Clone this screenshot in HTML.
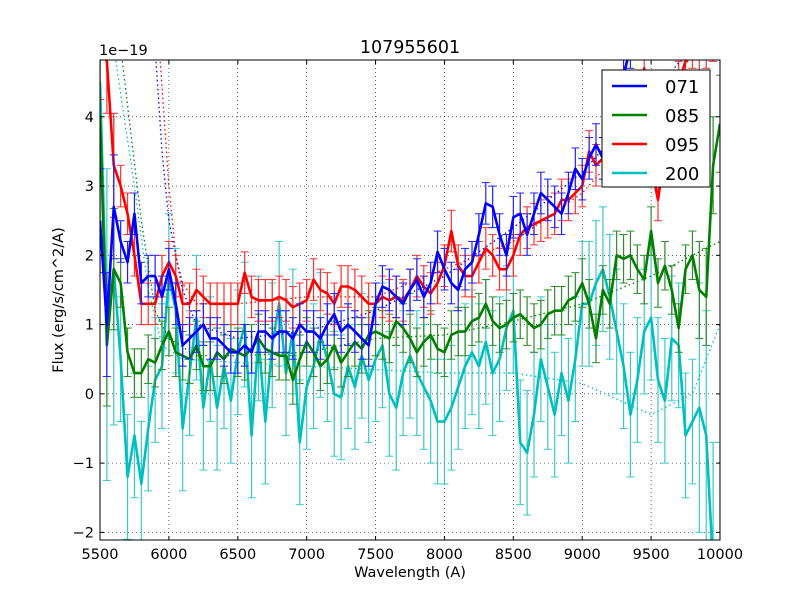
<!DOCTYPE html>
<html><head><meta charset="utf-8"><style>
html,body{margin:0;padding:0;background:#fff;width:800px;height:600px;overflow:hidden;}
svg{display:block;overflow:hidden;font-family:"DejaVu Sans","Liberation Sans",sans-serif;}
</style></head><body>
<svg id="c" width="800" height="600" xmlns="http://www.w3.org/2000/svg"></svg>
<script>
const waves=[];for(let w=5500;w<=10000;w+=50)waves.push(w);
const s071=[2.5,1.0,2.7,2.2,1.9,2.6,1.6,1.7,1.7,1.4,1.8,1.3,0.7,0.8,0.9,1.0,0.8,0.8,0.7,0.6,0.6,0.7,0.6,0.9,0.9,0.8,0.9,0.9,0.8,1.0,0.9,0.9,0.8,1.0,1.15,0.9,1.0,0.9,0.8,0.7,1.3,1.55,1.5,1.4,1.3,1.5,1.65,1.4,1.6,2.05,1.8,1.6,1.5,1.8,1.9,2.3,2.75,2.7,2.3,2.0,2.55,2.6,2.3,2.6,2.9,2.8,2.7,2.6,2.9,3.25,3.1,3.4,3.6,3.4,3.8,4.3,4.6,5.0,5.2,5.3,5.4,5.5,5.5,5.6,5.6,5.7,5.7,5.8,5.8,5.9,5.9];
const s085=[4.0,0.7,1.8,1.6,0.6,0.3,0.3,0.5,0.45,0.7,0.9,0.6,0.55,0.5,0.7,0.4,0.4,0.6,0.5,0.65,0.6,0.55,0.65,0.8,0.65,0.6,0.55,0.55,0.2,0.5,0.75,0.6,0.4,0.5,0.7,0.45,0.6,0.75,0.65,0.85,0.9,0.85,0.8,1.05,0.95,0.8,0.6,0.75,0.85,0.65,0.6,0.85,0.9,0.9,1.05,1.1,1.3,1.05,0.95,1.0,1.1,1.15,1.05,0.95,1.0,1.15,1.2,1.2,1.35,1.4,1.6,1.3,0.8,1.5,1.3,2.0,1.95,2.0,1.8,1.65,2.35,1.6,1.85,1.5,0.95,1.8,2.0,1.5,1.4,3.3,3.9];
const s095=[5.0,4.8,3.3,3.0,2.6,2.0,1.3,1.3,1.3,1.7,1.9,1.7,1.3,1.3,1.5,1.4,1.3,1.3,1.3,1.3,1.3,1.75,1.4,1.35,1.35,1.35,1.4,1.35,1.25,1.3,1.35,1.65,1.5,1.45,1.3,1.55,1.55,1.5,1.4,1.3,1.3,1.4,1.35,1.4,1.35,1.5,1.7,1.55,1.45,1.6,1.85,2.35,1.85,1.7,1.7,1.9,2.1,2.0,1.8,1.8,2.0,2.3,2.4,2.45,2.5,2.55,2.6,2.8,2.8,2.9,3.0,3.5,3.3,3.4,3.7,4.0,3.5,4.0,4.2,4.7,3.3,2.8,3.5,3.9,4.5,4.8,5.0,5.2,5.3,5.4,5.5];
const s200=[4.5,1.0,1.8,0.5,-1.2,-0.6,-1.3,-0.5,0.2,0.4,1.7,1.2,-0.5,0.3,1.1,-0.2,0.5,-0.2,0.4,-0.1,0.6,1.0,-0.6,0.8,-0.4,0.7,1.3,0.3,0.9,-0.7,0.1,0.4,0.85,0.5,0.0,-0.05,0.4,0.1,0.55,0.2,0.5,0.7,0.0,-0.2,0.3,0.55,0.3,0.1,-0.1,-0.4,-0.4,-0.2,0.1,0.4,0.6,0.4,0.75,0.3,0.5,0.95,1.2,-0.7,-0.85,-0.3,0.5,0.1,-0.3,0.3,-0.1,0.5,1.3,1.3,1.6,1.8,1.4,0.9,0.4,-0.3,0.2,0.9,1.1,0.2,-0.1,0.8,0.7,-0.6,-0.4,-0.2,-0.6,-2.5,-2.5];
const err071=0.3, err085=0.35, err095=0.3, err200=0.9;
const fitRedX=[5930,6000,6050,6100,6200,6500,7000,7500,8000,8500,9000,9500,10000];
const fitRedY=[5.0,3.0,2.0,1.6,1.3,1.3,1.4,1.4,1.8,2.2,2.9,4.0,5.5];
const fitBlueX=[5900,5950,6000,6100,6200,6500,7000,7500,8000,8500,9000,9500,10000];
const fitBlueY=[5.0,3.5,2.5,1.5,1.0,0.8,0.9,1.2,1.7,2.4,3.2,4.3,5.5];
const fitGreenX=[5650,5800,5900,6000,6200,6500,7000,7500,8000,8500,9000,9500,10000];
const fitGreenY=[5.0,2.5,1.2,0.8,0.55,0.55,0.6,0.8,0.85,1.05,1.3,1.7,2.2];
const fitCyanX=[5600,5750,5850,5950,6100,6500,7000,7500,8000,8500,9000,9500,9800,10000];
const fitCyanY=[5.0,3.0,1.5,0.7,0.5,0.45,0.4,0.35,0.3,0.3,0.15,-0.3,0.0,1.0];
const xTicks=[5500,6000,6500,7000,7500,8000,8500,9000,9500,10000];
const yTicks=[-2,-1,0,1,2,3,4];
const yTickLabels=["\u22122","\u22121","0","1","2","3","4"];
const legendLabels=["071","085","095","200"];

const L=100,R=720,T=60,B=540,XMIN=5500,XMAX=10000,YMIN=-2.11,YMAX=4.82;
const sx=v=>L+(v-XMIN)/(XMAX-XMIN)*(R-L);
const syRaw=v=>B-(v-YMIN)/(YMAX-YMIN)*(B-T);
const sy=v=>Math.max(T-2,Math.min(B+2,syRaw(v)));
const NS="http://www.w3.org/2000/svg";
const svg=document.getElementById('c');
function mk(tag,attrs,parent){const e=document.createElementNS(NS,tag);for(const k in attrs)e.setAttribute(k,attrs[k]);(parent||svg).appendChild(e);return e;}
const defs=mk('defs',{});const cp=mk('clipPath',{id:'clip'},defs);mk('rect',{x:L,y:T,width:R-L,height:B-T},cp);
const grid=mk('g',{});


xTicks.forEach(t=>{mk('line',{x1:sx(t),x2:sx(t),y1:T,y2:B,stroke:'#000','stroke-width':0.6,'stroke-dasharray':'1,3'},grid);});
yTicks.forEach(t=>{mk('line',{x1:L,x2:R,y1:sy(t),y2:sy(t),stroke:'#000','stroke-width':0.6,'stroke-dasharray':'1,3'},grid);});
const plot=mk('g',{'clip-path':'url(#clip)'});
// line polyline: clip segments against the y range to keep everything inside the frame
function clippedPts(xs,ys){
  const out=[];
  for(let i=0;i<xs.length;i++){
    const x=sx(xs[i]),y=syRaw(ys[i]);
    if(i>0){const px=sx(xs[i-1]),py=syRaw(ys[i-1]);
      [T-2,B+2].forEach(lim=>{if((py-lim)*(y-lim)<0){const f=(lim-py)/(y-py);out.push([px+f*(x-px),lim]);}});}
    out.push([x,Math.max(T-2,Math.min(B+2,y))]);
  }
  return out.map(p=>p[0]+','+p[1]).join(' ');
}
function series(name,vals,err,color,ecolor){
  const g=mk('g',{},plot);
  
  
  vals.forEach((v,i)=>{const x=sx(waves[i]);const e=err*(i<3?2.5:1)*(i>86?2:1);
    mk('line',{x1:x,x2:x,y1:sy(v-e),y2:sy(v+e),stroke:ecolor,'stroke-width':1.2},g);
    mk('line',{x1:x-4,x2:x+4,y1:sy(v-e),y2:sy(v-e),stroke:ecolor,'stroke-width':1},g);
    mk('line',{x1:x-4,x2:x+4,y1:sy(v+e),y2:sy(v+e),stroke:ecolor,'stroke-width':1},g);});
  const p=mk('polyline',{points:clippedPts(waves,vals),fill:'none',stroke:color,'stroke-width':2.6,'stroke-linejoin':'round'},g);
  
  
}
function fit(name,xs,ys,color){
  const p=mk('polyline',{points:clippedPts(xs,ys),fill:'none',stroke:color,'stroke-width':1.3,'stroke-dasharray':'1.5,3'},plot);
  
  
}
series('200',s200,err200,'#00bfbf','#3cc8c8');
series('085',s085,err085,'#008000','#2e8b2e');
series('095',s095,err095,'#ff0000','#ff3030');
series('071',s071,err071,'#0000ff','#2020ff');
fit('071',fitBlueX,fitBlueY,'#0000ff');
fit('085',fitGreenX,fitGreenY,'#008000');
fit('095',fitRedX,fitRedY,'#ff0000');
fit('200',fitCyanX,fitCyanY,'#00bfbf');
const fr=mk('rect',{x:L,y:T,width:R-L,height:B-T,fill:'none',stroke:'#000','stroke-width':1});


xTicks.forEach(t=>{const x=sx(t);mk('line',{x1:x,x2:x,y1:B,y2:B-4,stroke:'#000'});mk('line',{x1:x,x2:x,y1:T,y2:T+4,stroke:'#000'});
  const tx=mk('text',{x:x,y:B+19,'font-size':14.5,'text-anchor':'middle'});tx.textContent=t;
  
  });
yTicks.forEach((t,i)=>{const y=sy(t);mk('line',{x1:L,x2:L+4,y1:y,y2:y,stroke:'#000'});mk('line',{x1:R,x2:R-4,y1:y,y2:y,stroke:'#000'});
  const tx=mk('text',{x:L-6,y:y+5,'font-size':14.5,'text-anchor':'end'});tx.textContent=yTickLabels[i];
  
  });
function txt(s,a,name){const t=mk('text',a);t.textContent=s;return t;}
txt('107955601',{x:410,y:53,'font-size':17.5,'text-anchor':'middle'},'chart-title');
txt('1e\u221219',{x:99,y:55,'font-size':14.5},'y-offset-label');
txt('Wavelength (A)',{x:410,y:577,'font-size':14.5,'text-anchor':'middle'},'x-axis-title');
txt('Flux (erg/s/cm^2/A)',{x:63,y:300,'font-size':14.5,'text-anchor':'middle',transform:'rotate(-90 63 300)'},'y-axis-title');
const lg=mk('g',{});


mk('rect',{x:602,y:70,width:108,height:117,fill:'#fff',stroke:'#000','stroke-width':1},lg);
const lc=['#0000ff','#008000','#ff0000','#00bfbf'];
legendLabels.forEach((s,i)=>{const y=86+i*29;
  const en=mk('g',{},lg);
  
  
  mk('line',{x1:612,x2:647,y1:y,y2:y,stroke:lc[i],'stroke-width':2.6},en);
  const t=mk('text',{x:665,y:y+7,'font-size':18},en);t.textContent=s;});
</script>
</body></html>
